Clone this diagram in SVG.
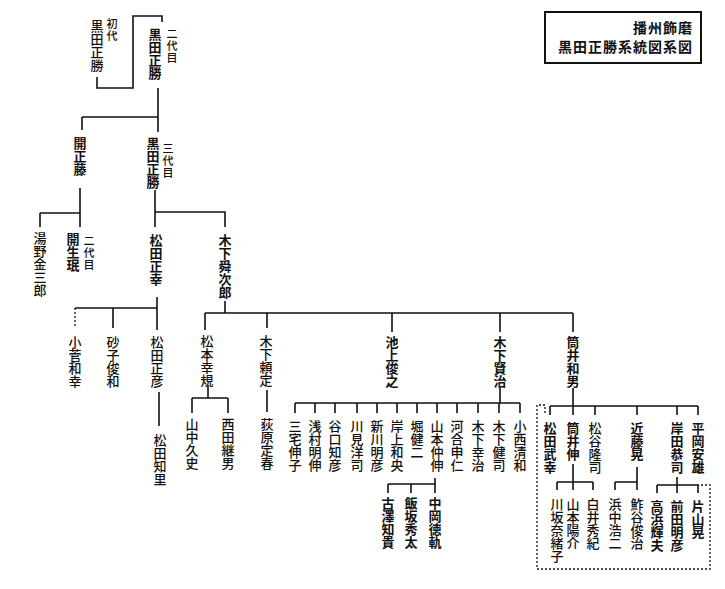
<svg xmlns="http://www.w3.org/2000/svg" width="725" height="589" viewBox="0 0 725 589">
<style>
text{font-family:"Noto Sans CJK JP","Noto Sans CJK SC",sans-serif;fill:#111}
.n{font-size:13px;writing-mode:vertical-rl;font-weight:500}
.b{font-weight:bold}
.s{font-size:11px;writing-mode:vertical-rl;letter-spacing:1px;font-weight:500}
.t{font-size:14px;font-weight:bold;text-anchor:end;letter-spacing:1px}
.l{fill:none;stroke:#111;stroke-width:1.6}
.d{fill:none;stroke:#111;stroke-width:1.3;stroke-dasharray:2 2}
</style>
<rect width="725" height="589" fill="#fff"/>
<g id="title">
<rect x="545" y="12" width="156" height="51" fill="none" stroke="#111" stroke-width="2"/>
<text class="t" x="693" y="33">播州飾磨</text>
<text class="t" x="693" y="52">黒田正勝系統図系図</text>
</g>
<g id="connectors">
<path class="l" d="M97,77V88H133V16H162V22"/>
<path class="l" d="M158,88V132M82,117H158M82,117V130"/>
<path class="l" d="M80,188V227M40,213H80M40,213V227"/>
<path class="l" d="M155,190V227M155,212H225V227"/>
<path class="l" d="M157,297V330M75,308H157M113,308V328"/>
<path class="d" d="M75,308V328"/>
<path class="l" d="M159,392V426"/>
<path class="l" d="M225,301V313M205,313H573M205,313V330M267,313V328M392,313V332M500,313V332M573,313V332"/>
<path class="l" d="M208,385V398M192,398H228M192,398V413M228,398V413"/>
<path class="l" d="M267,390V412"/>
<path class="l" d="M500,388V403M295,403H520M295,403V413M315,403V413M335,403V413M357,403V413M377,403V413M397,403V413M417,403V413M437,403V413M457,403V413M478,403V413M499,403V413M520,403V413"/>
<path class="l" d="M435,478V484M388,484H435M388,484V493M411,484V493M435,484V493"/>
<path class="l" d="M573,388V406M550,406H698M550,406V415M573,406V415M595,406V415M637,406V415M677,406V415M698,406V415"/>
<path class="l" d="M573,464V482M557,482H593M557,482V490M573,482V490M593,482V490"/>
<path class="l" d="M637,467V482M615,482H637M615,482V490M637,482V490"/>
<path class="l" d="M677,477V485M657,485H698M657,485V493M677,485V493M698,485V493"/>
<path class="d" d="M545,413V405H537V569H710V485H698"/>
</g>
<g id="n1"><text class="s" x="112" y="18">初代</text><text class="n" x="97" y="20">黒田正勝</text></g>
<g id="n2"><text class="s" x="172" y="28">二代目</text><text class="n b" x="155" y="28">黒田正勝</text></g>
<g id="n3"><text class="n b" x="80" y="137">開正藤</text></g>
<g id="n4"><text class="n b" x="153" y="137">黒田正勝</text><text class="s" x="168" y="143">三代目</text></g>
<g id="n5"><text class="n" x="40" y="232">湯野金三郎</text></g>
<g id="n6"><text class="n b" x="73" y="233">開生珉</text><text class="s" x="89" y="235">二代目</text></g>
<g id="n7"><text class="n b" x="156" y="234">松田正幸</text></g>
<g id="n8"><text class="n b" x="225" y="234">木下舜次郎</text></g>
<g id="n9"><text class="n" x="75" y="336">小菅和幸</text></g>
<g id="n10"><text class="n" x="113" y="336">砂子俊和</text></g>
<g id="n11"><text class="n" x="157" y="336">松田正彦</text></g>
<g id="n12"><text class="n" x="160" y="434">松田知里</text></g>
<g id="n13"><text class="n" x="207" y="335">松本幸規</text></g>
<g id="n14"><text class="n" x="266" y="335">木下頼定</text></g>
<g id="n15"><text class="n b" x="392" y="336">池上俊之</text></g>
<g id="n16"><text class="n b" x="500" y="336">木下賢治</text></g>
<g id="n17"><text class="n b" x="573" y="336">筒井和男</text></g>
<g id="n18"><text class="n" x="192" y="418">山中久史</text></g>
<g id="n19"><text class="n" x="228" y="418">西田継男</text></g>
<g id="n20"><text class="n" x="267" y="418">荻原定春</text></g>
<g id="n21"><text class="n" x="295" y="420">三宅伸子</text></g>
<g id="n22"><text class="n" x="315" y="420">浅村明伸</text></g>
<g id="n23"><text class="n" x="335" y="420">谷口知彦</text></g>
<g id="n24"><text class="n" x="357" y="420">川見洋司</text></g>
<g id="n25"><text class="n" x="377" y="420">新川明彦</text></g>
<g id="n26"><text class="n" x="397" y="420">岸上和央</text></g>
<g id="n27"><text class="n" x="417" y="420">堀健二</text></g>
<g id="n28"><text class="n" x="437" y="420">山本仲伸</text></g>
<g id="n29"><text class="n" x="457" y="420">河合申仁</text></g>
<g id="n30"><text class="n" x="478" y="420">木下幸治</text></g>
<g id="n31"><text class="n" x="499" y="420">木下健司</text></g>
<g id="n32"><text class="n" x="520" y="420">小西清和</text></g>
<g id="n33"><text class="n b" x="388" y="497">古澤知貴</text></g>
<g id="n34"><text class="n b" x="411" y="497">飯坂秀太</text></g>
<g id="n35"><text class="n b" x="435" y="497">中岡徳軌</text></g>
<g id="n36"><text class="n b" x="550" y="422">松田武幸</text></g>
<g id="n37"><text class="n b" x="573" y="422">筒井伸</text></g>
<g id="n38"><text class="n" x="595" y="422">松谷隆司</text></g>
<g id="n39"><text class="n b" x="637" y="422">近藤晃</text></g>
<g id="n40"><text class="n b" x="677" y="422">岸田恭司</text></g>
<g id="n41"><text class="n b" x="698" y="422">平岡安雄</text></g>
<g id="n42"><text class="n" x="557" y="498">川坂奈緒子</text></g>
<g id="n43"><text class="n" x="573" y="498">山本陽介</text></g>
<g id="n44"><text class="n" x="593" y="498">白井秀紀</text></g>
<g id="n45"><text class="n" x="615" y="498">浜中浩二</text></g>
<g id="n46"><text class="n" x="637" y="498">鮓谷俊治</text></g>
<g id="n47"><text class="n b" x="657" y="500">高浜輝夫</text></g>
<g id="n48"><text class="n b" x="677" y="500">前田明彦</text></g>
<g id="n49"><text class="n b" x="698" y="500">片山晃</text></g>
</svg>
